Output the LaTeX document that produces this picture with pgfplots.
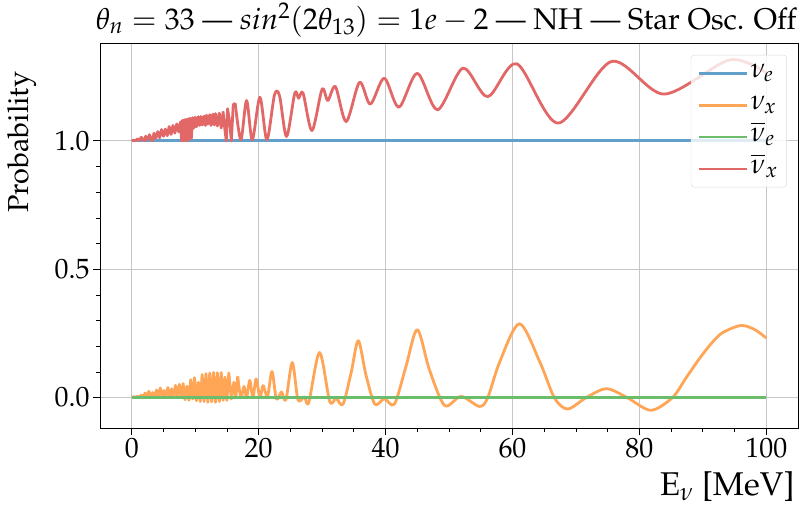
\documentclass[border=0pt]{standalone}
\usepackage[T1]{fontenc}
\usepackage{mathpazo}
\usepackage{pgfplots}
\pgfplotsset{compat=1.18}
\definecolor{cblue}{HTML}{62A0CA}
\definecolor{corange}{HTML}{FFA556}
\definecolor{cgreen}{HTML}{6BBC6B}
\definecolor{cred}{HTML}{E26868}
\begin{document}
\begin{tikzpicture}
\path[use as bounding box] (-100bp,-94bp) rectangle (709bp,428bp);
\begin{axis}[
  at={(0,0)}, anchor=south west,
  scale only axis, width=698bp, height=385bp,
  xmin=-5, xmax=105, ymin=-0.118, ymax=1.381,
  xtick={0,20,...,100}, minor x tick num=3,
  ytick={0,0.5,1}, minor y tick num=4,
  yticklabel style={/pgf/number format/.cd, fixed, fixed zerofill, precision=1},
  tick align=outside, xtick pos=lower, ytick pos=left,
  major tick length=7bp, minor tick length=4bp,
  tick style={black, line width=0.8bp},
  axis line style={line width=0.8bp},
  grid=major, grid style={gray!45, line width=0.8bp},
  ticklabel style={font=\fontsize{28}{32}\selectfont},
  xlabel={E$_\nu$ [MeV]},
  xlabel style={font=\fontsize{33}{38}\selectfont, at={(axis description cs:1,0)}, anchor=north east, yshift=-40bp},
  ylabel={Probability},
  ylabel style={font=\fontsize{29}{33}\selectfont, at={(axis description cs:-0.112,0.742)}, anchor=center},
  title={$\theta_n = 33$ --- $sin^2(2\theta_{13}) = 1e-2$ --- NH --- Star Osc. Off},
  title style={font=\fontsize{30}{34}\selectfont, at={(axis description cs:1.003,1)}, anchor=base east, yshift=8bp},
  legend style={at={(0.984,0.969)}, anchor=north east, draw=gray!30, rounded corners=3bp,
    fill=white, fill opacity=0.8, text opacity=1, font=\fontsize{28}{32}\selectfont,
    inner xsep=7bp, inner ysep=4bp, row sep=4bp,
    nodes={text height=16bp, text depth=8bp}},
  legend cell align=left,
  legend image code/.code={\draw[#1, line width=2.8bp] (0bp,0bp) -- (48bp,0bp);},
  every axis plot/.append style={line width=2.8bp, line join=round},
]
\addplot[cblue] coordinates {(0,1) (100,1)};
\addlegendentry{$\nu_e$}
\addplot[corange, forget plot] coordinates {
(0,0.000) (0.3,0.004) (0.6,0.000) (0.9,0.006) (1.2,0.001) (1.5,0.010) (1.8,0.000) (2.1,0.018)
(2.4,0.002) (2.7,0.025) (3.0,0.004) (3.3,0.020) (3.6,0.002) (3.9,0.030) (4.2,0.005) (4.5,0.038)
(4.8,0.004) (5.1,0.028) (5.4,0.006) (5.7,0.040) (6.0,0.002) (6.3,0.035) (6.6,0.000) (6.9,0.048)
(7.2,0.004) (7.5,0.052) (7.8,0.002) (8.1,0.055) (8.4,-0.008) (8.7,0.045) (9.0,-0.010) (9.3,0.070)
(9.6,-0.005) (9.9,0.078) (10.2,-0.012) (10.5,0.060) (10.8,-0.015) (11.1,0.090) (11.4,-0.015) (11.7,0.094)
(12.0,-0.018) (12.3,0.096) (12.6,-0.016) (12.9,0.098) (13.2,-0.018) (13.5,0.097) (13.8,-0.015) (14.1,0.098)
(14.4,-0.010) (14.7,0.080) (15.0,-0.010) (15.3,0.096) (15.7,-0.005) (16.1,0.060) (16.4,0.000) (16.7,0.083)
};
\addplot[corange, smooth] coordinates {
(16.7,0.083) (17.2,0.000) (17.7,0.044) (18.1,0.000) (18.6,0.067) (19.1,0.000) (19.6,0.073) (20.2,0.000)
(20.7,0.047) (21.4,0.005) (22.1,0.102) (22.8,-0.005) (23.6,0.022) (24.3,-0.008) (25.3,0.137) (26.2,-0.008)
(27.2,0.003) (27.9,-0.018) (29.6,0.176) (31.2,-0.014) (32.2,-0.003) (33.3,-0.025) (34.6,0.100) (35.7,0.222)
(36.9,0.090) (38.3,-0.025) (39.8,-0.004) (41.4,-0.025) (43.2,0.120) (45.0,0.265) (46.9,0.110) (49.3,-0.030)
(51.9,0.005) (54.8,-0.034) (56.1,0.000) (58.0,0.140) (61.1,0.288) (64.3,0.140) (66.6,0.000) (68.7,-0.044)
(71.6,0.000) (74.8,0.035) (78.1,0.000) (81.8,-0.049) (85.2,0.000) (87.3,0.075) (89.4,0.150) (91.3,0.210)
(93.1,0.253) (96.0,0.281) (98.2,0.265) (100,0.232)
};
\addlegendentry{$\nu_x$}
\addplot[cgreen] coordinates {(0,0) (100,0)};
\addlegendentry{$\overline{\nu}_e$}
\addplot[cred, forget plot] coordinates {
(0,1.000) (0.3,1.003) (0.6,1.000) (0.9,1.008) (1.2,1.002) (1.5,1.014) (1.8,1.004) (2.0,1.000)
(2.2,1.018) (2.5,1.004) (2.8,1.024) (3.1,1.006) (3.3,1.000) (3.5,1.030) (3.8,1.010) (4.1,1.036)
(4.4,1.012) (4.7,1.044) (5.0,1.018) (5.3,1.046) (5.6,1.020) (5.9,1.056) (6.2,1.025) (6.5,1.060)
(6.8,1.030) (7.1,1.066) (7.4,1.035) (7.7,1.074) (7.85,1.000) (8.0,1.080) (8.15,1.000) (8.3,1.082)
(8.45,1.002) (8.6,1.084) (8.75,1.000) (8.9,1.086) (9.05,1.005) (9.2,1.088) (9.4,1.010) (9.6,1.090)
(9.8,1.050) (10.0,1.092) (10.2,1.055) (10.5,1.094) (10.7,1.060) (10.9,1.095) (11.1,1.062) (11.4,1.096)
(11.6,1.060) (11.8,1.100) (12.0,1.065) (12.3,1.102) (12.5,1.060) (12.8,1.104) (13.0,1.062) (13.2,1.106)
(13.5,1.058) (13.8,1.108) (14.1,1.050) (14.4,1.112) (14.7,1.040) (14.9,1.000) (15.1,1.125) (15.4,1.080)
(15.7,1.000) (16.0,1.140) (16.3,1.147)
};
\addplot[cred, smooth] coordinates {
(16.3,1.147) (17.2,1.004) (18.1,1.157) (19.0,1.004) (20.2,1.170) (21.3,1.004) (22.5,1.179) (23.3,1.175)
(24.4,1.017) (25.7,1.186) (26.3,1.166) (27.0,1.186) (28.4,1.040) (30.0,1.201) (30.9,1.157) (32.1,1.211)
(33.8,1.075) (35.9,1.228) (37.6,1.143) (39.8,1.244) (42.1,1.131) (45.0,1.263) (48.2,1.121) (52.2,1.283)
(56.1,1.172) (60.7,1.300) (67.2,1.069) (75.6,1.309) (83.9,1.182) (94.2,1.315) (100,1.265)
};
\addlegendentry{$\overline{\nu}_x$}
\end{axis}
\end{tikzpicture}
\end{document}
